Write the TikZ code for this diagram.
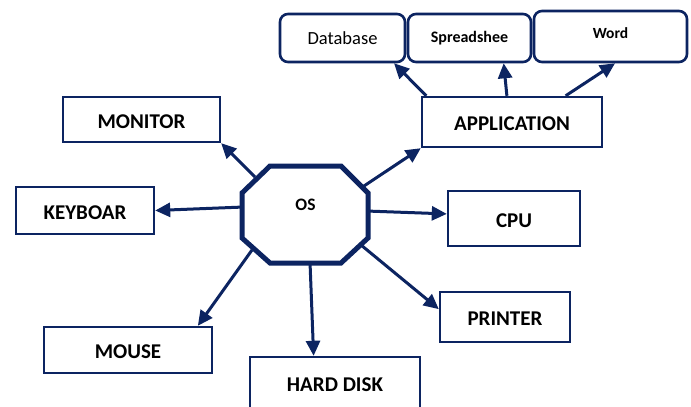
\documentclass[tikz,border=0pt]{standalone}
\usepackage{fontspec}
\setmainfont{Carlito}
\usetikzlibrary{arrows.meta,calc}
\definecolor{navy}{RGB}{12,36,97}
\tikzset{
  box/.style={draw=navy,line width=2.4pt,inner sep=0pt,text height=17pt,text depth=0pt,font=\fontsize{21}{23}\selectfont\bfseries},
  rbox/.style={draw=navy,line width=2.6pt,rounded corners=8pt,inner sep=0pt},
  arr/.style={draw=navy,line width=3pt,-{Triangle[length=15pt,width=14pt]}},
}
\begin{document}
\begin{tikzpicture}[x=1pt,y=-1pt]
\clip (0,0) rectangle (691,407);
\fill[white] (0,0) rectangle (691,407);
% boxes
\node[box,minimum width=157pt,minimum height=45pt] (monitor) at (141.5,119.5) {MONITOR};
\node[box,minimum width=138pt,minimum height=47pt] (kb) at (85,210.5) {KEYBOAR};
\node[box,minimum width=168pt,minimum height=46pt] (mouse) at (128,350) {MOUSE};
\node[box,minimum width=170pt,minimum height=52pt] (hd) at (335,383) {HARD DISK};
\node[box,minimum width=130pt,minimum height=50pt] (printer) at (505,317) {PRINTER};
\node[box,minimum width=132pt,minimum height=55pt] (cpu) at (514,218.5) {CPU};
\node[box,minimum width=180pt,minimum height=50pt] (app) at (512,122) {APPLICATION};
\node[rbox,minimum width=125pt,minimum height=48pt,font=\fontsize{18.5}{20}\selectfont] (db) at (342.5,38) {Database};
\node[rbox,minimum width=123pt,minimum height=48pt,font=\fontsize{16}{18}\selectfont\bfseries] (ss) at (469.5,38) {Spreadshee};
\node[rbox,minimum width=153pt,minimum height=51pt] (word) at (610.5,36.5) {};
\node[font=\fontsize{15.5}{18}\selectfont\bfseries] (wordtxt) at (610.5,33) {Word};
% octagon starting points
\coordinate (s1) at (255,177);
\coordinate (s2) at (244,207);
\coordinate (s3) at (252,250);
\coordinate (s4) at (310,262);
\coordinate (s5) at (361,245);
\coordinate (s6) at (366,211);
\coordinate (s7) at (364,186);
% arrows
\draw[arr] (s1) -- (monitor.south east);
\draw[arr] (s2) -- (kb.east);
\draw[arr] (s3) -- ($(mouse.north east)!0.09!(mouse.north west)$);
\draw[arr] (s4) -- ($(hd.north west)!0.376!(hd.north east)$);
\draw[arr] (s5) -- ($(printer.north west)!0.35!(printer.south west)$);
\draw[arr] (s6) -- ($(cpu.north west)!0.42!(cpu.south west)$);
\draw[arr] (s7) -- (app.south west);
\draw[arr] ($(app.north west)!0.03!(app.north east)$) -- ($(db.south west)!0.904!(db.south east)$);
\draw[arr] ($(app.north west)!0.472!(app.north east)$) -- ($(ss.south west)!0.772!(ss.south east)$);
\draw[arr] ($(app.north west)!0.794!(app.north east)$) -- ($(word.south west)!0.529!(word.south east)$);
% octagon
\draw[navy,line width=5pt,fill=white,line join=miter]
  (270,166) -- (341,166) -- (368,193) -- (368,238) -- (341,263) -- (270,263) -- (242,238) -- (242,193) -- cycle;
\node[font=\fontsize{17.5}{19}\selectfont\bfseries] (os) at (305.5,205) {OS};
\end{tikzpicture}
\end{document}
